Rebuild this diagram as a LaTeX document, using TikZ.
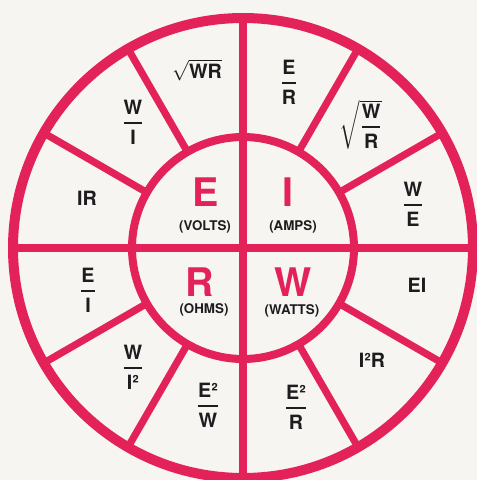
\documentclass[tikz,border=0pt]{standalone}
\usepackage{amsmath}
\usepackage{fontspec}
\setmainfont{TeX Gyre Heros}
\usepackage{tikz}

\definecolor{ohmred}{RGB}{226,34,88}
\definecolor{paper}{RGB}{247,245,241}
\definecolor{ink}{RGB}{30,28,30}
\newcommand{\frc}[2]{$\genfrac{}{}{1.4pt}{0}{\text{#1}}{\text{#2}}$}

\begin{document}
\begin{tikzpicture}[
    ring/.style={draw=ohmred, line width=0.25cm},
    cross/.style={draw=ohmred, line width=0.2cm},
    spoke/.style={draw=ohmred, line width=0.18cm},
    big/.style={text=ohmred, font=\fontsize{28}{30}\selectfont\bfseries},
    unit/.style={text=ink, font=\fontsize{9.5}{11}\selectfont\bfseries},
    lbl/.style={text=ink, font=\fontsize{14}{16}\selectfont\bfseries, align=center}
]

% Paper
\fill[paper] (-6.075,-5.8) rectangle (5.85,6.2);
\useasboundingbox (-6.075,-5.8) rectangle (5.85,6.2);

\coordinate (c) at (0,0);

% Cross
\draw[cross] (-5.75,0) -- (5.75,0);
\draw[cross] (0,-5.75) -- (0,5.75);

% Spokes
\foreach \a in {30,60,120,150,210,240,300,330}
    \draw[spoke] (\a:2.775) -- (\a:5.75);

% Rings
\draw[ring] (c) circle (5.75);
\draw[cross] (c) circle (2.775);

% Centre quantities
\node[big] (e) at (-0.925, 1.4) {E};
\node[unit] (volts) at (-0.95, 0.525) {(VOLTS)};
\node[big] (i) at (1.125, 1.4) {I};
\node[unit] (amps) at (1.25, 0.525) {(AMPS)};
\node[big] (r) at (-1.075, -0.85) {R};
\node[unit] (ohms) at (-0.975, -1.55) {(OHMS)};
\node[big] (w) at (1.25, -0.85) {W};
\node[unit] (watts) at (1.225, -1.575) {(WATTS)};

% Formulas, E quadrant
\node[lbl] (ewr) at (-1.15, 4.45) {$\sqrt{\text{WR}}$};
\node[lbl] (ewi) at (-2.75, 3.15) {\frc{W}{I}};
\node[lbl] (eir) at (-3.9, 1.25) {IR};

% Formulas, I quadrant
\node[lbl] (ier) at (1.15, 4.15) {\frc{E}{R}};
\node[lbl] (iwr) at (2.95, 3.075) {$\sqrt{\genfrac{}{}{1.4pt}{0}{\text{W}}{\text{R}}}$};
\node[lbl] (iwe) at (4.25, 1.1) {\frc{W}{E}};

% Formulas, R quadrant
\node[lbl] (rei) at (-3.875, -1.05) {\frc{E}{I}};
\node[lbl] (rwi) at (-2.75, -2.975) {\frc{W}{I²}};
\node[lbl] (rew) at (-0.875, -3.925) {\frc{E²}{W}};

% Formulas, W quadrant
\node[lbl] (wei) at (4.35, -0.925) {EI};
\node[lbl] (wir) at (3.225, -2.8) {I²R};
\node[lbl] (wer) at (1.325, -3.975) {\frc{E²}{R}};

\end{tikzpicture}
\end{document}
